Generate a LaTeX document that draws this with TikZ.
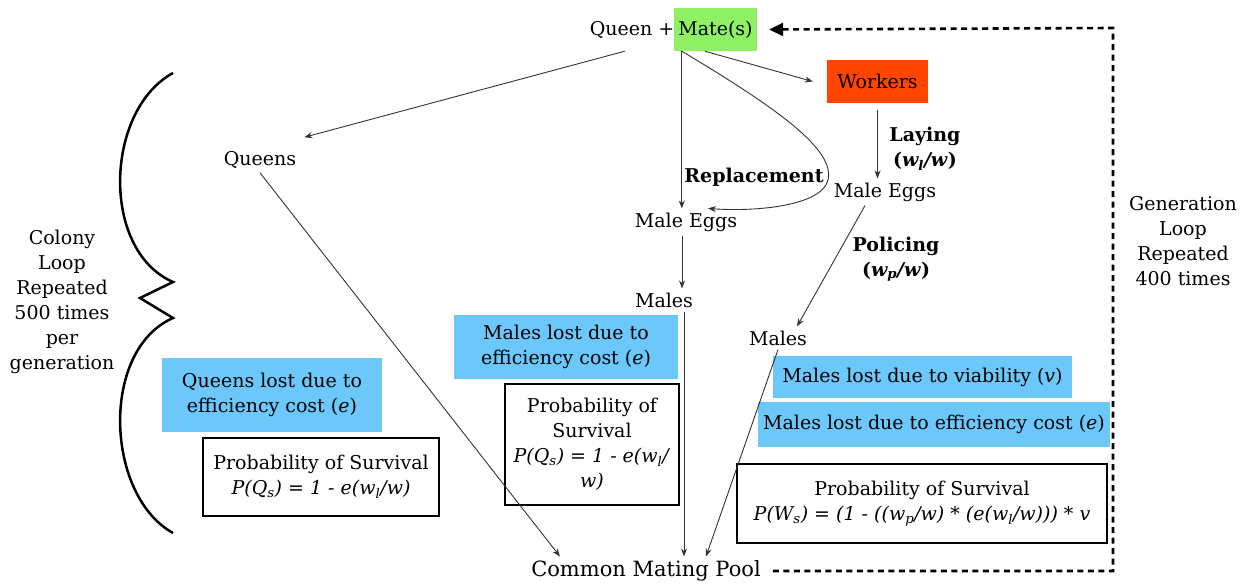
\documentclass[tikz,border=0pt]{standalone}
\usepackage{fontspec}
\setmainfont{DejaVu Serif}
\usetikzlibrary{arrows.meta}
\definecolor{lossblue}{HTML}{6CC7FA}
\definecolor{mategreen}{HTML}{8EF062}
\definecolor{workred}{HTML}{FF4500}
% italic symbols used in the formulas
\newcommand{\wsub}[1]{\textit{w}\textsubscript{\textit{#1}}}
\newcommand{\vv}{\textit{v}}
\tikzset{
  txt/.style={font=\fontsize{19}{25}\selectfont, inner sep=4pt, align=center},
  lbl/.style={font=\fontsize{19}{25}\selectfont\bfseries, inner sep=0pt, align=center},
  lossbox/.style={txt, fill=lossblue},
  probbox/.style={txt, draw, line width=1.2pt},
  flow/.style={draw=black!80, line width=0.9pt, -{Stealth[length=8pt,width=6pt]}},
  genloop/.style={line width=2.6pt, dash pattern=on 6pt off 4.5pt, -{Triangle[length=14pt,width=13pt]}}
}
\begin{document}
\begin{tikzpicture}[x=1pt,y=-1pt]
\useasboundingbox (0,0) rectangle (1247,586);

% colony members
\node[txt] (queen) at (632,30) {Queen +};
\node[txt, fill=mategreen, minimum width=83, minimum height=43] (mate) at (715.5,29.5) {Mate(s)};
\node[txt, fill=workred, minimum width=101, minimum height=43] (workers) at (877.5,81.5) {Workers};
\node[txt] (queens) at (260,160) {Queens};
\node[txt] (meggsL) at (686,222) {Male Eggs};
\node[txt] (meggsR) at (885,192) {Male Eggs};
\node[txt] (malesL) at (664,300) {Males};
\node[txt] (malesR) at (778,338) {Males};
\node[txt, font=\fontsize{21}{25}\selectfont] (pool) at (646,571) {Common Mating Pool};

% edge labels
\node[lbl] (repl) at (754,177) {Replacement};
\node[lbl] (lay) at (925,149) {Laying\\(\textit{\wsub{l}/w})};
\node[lbl] (pol) at (896,259) {Policing\\(\textit{\wsub{p}/w})};

% losses and survival probabilities
\node[lossbox, minimum width=220, minimum height=74] (qloss) at (272,395) {Queens lost due to\\efficiency cost (\textit{e})};
\node[probbox, minimum width=236, minimum height=78] (qprob) at (321,477) {Probability of Survival\\\textit{P(Q\textsubscript{s}) = 1 - e(\wsub{l}/w)}};
\node[lossbox, minimum width=224, minimum height=64] (mloss) at (566,347) {Males lost due to\\efficiency cost (\textit{e})};
\node[probbox, minimum width=174, minimum height=121] (mprob) at (592,444.5) {Probability of\\Survival\\\textit{P(Q\textsubscript{s}) = 1 - e(\wsub{l}/}\\\textit{w)}};
\node[lossbox, minimum width=299, minimum height=42] (vloss) at (922.5,377) {Males lost due to viability (\vv)};
\node[lossbox, minimum width=352, minimum height=45] (wloss) at (934,424.5) {Males lost due to efficiency cost (\textit{e})};
\node[probbox, minimum width=370, minimum height=79] (wprob) at (922,503.5) {Probability of Survival\\\textit{P(W\textsubscript{s}) = (1 - ((\wsub{p}/w) * (e(\wsub{l}/w))) * \vv}};

% loop descriptions
\node[txt] (colony) at (62,302) {Colony\\Loop\\Repeated\\500 times\\per\\generation};
\node[txt] (gen) at (1183,241) {Generation\\Loop\\Repeated\\400 times};

% flows
\draw[flow] ([xshift=-49]mate.south west) -- ([shift={(4,-10)}]queens.north east);
\draw[flow] ([xshift=31]mate.south west) -- ([xshift=-14]workers.west);
\draw[flow] ([xshift=8]mate.south west) -- ([xshift=8]mate.south west |- meggsL.north);
\draw[flow] ([xshift=8]mate.south west) .. controls (780,110) and (835,150) .. (828,180)
  .. controls (822,205) and (760,212) .. ([xshift=22]meggsL.north);
\draw[flow] ([yshift=-7]workers.south) -- (workers.south |- meggsR.north);
\draw[flow] ([xshift=-20]meggsR.south) -- ([xshift=19]malesR.north);
\draw[flow] ([xshift=-4]meggsL.south) -- ([xshift=-4]meggsL.south |- malesL.north);
\draw[flow] ([xshift=20]malesL.south) -- ([xshift=38]pool.north);
\draw[flow] (malesR.south) -- ([xshift=60]pool.north);
\draw[flow] (queens.south) -- ([xshift=-86]pool.north);

% generation loop
\coordinate (gcorner) at (1113,28);
\draw[genloop] ([shift={(8,0)}]pool.east) -| (gcorner) -- ([xshift=12]mate.east);

% colony loop brace
\draw[line width=2.5pt, line join=miter] (173,73) .. controls (105,110) and (100,250) .. (173,282)
  -- (140,298) -- (173,318)
  .. controls (100,350) and (105,495) .. (173,533);
\end{tikzpicture}
\end{document}
